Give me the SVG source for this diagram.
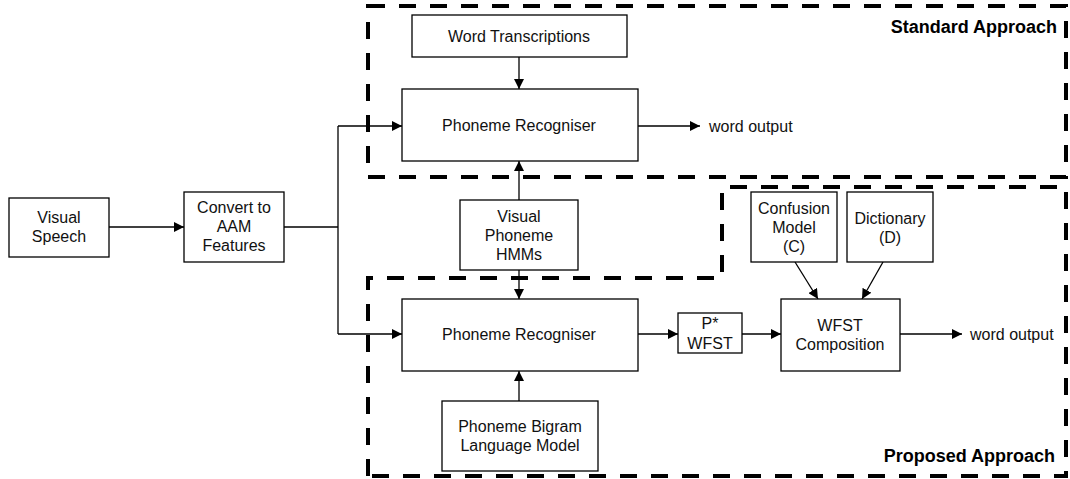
<svg xmlns="http://www.w3.org/2000/svg" width="1070" height="479" viewBox="0 0 1070 479">
<defs>
<style>
.box{fill:#fff;stroke:#000;stroke-width:1.3}
.t{font-family:"Liberation Sans",Arial,sans-serif;font-size:16px;fill:#111;text-anchor:middle}
.tl{font-family:"Liberation Sans",Arial,sans-serif;font-size:16px;fill:#111}
.b{font-family:"Liberation Sans",Arial,sans-serif;font-size:18px;font-weight:bold;fill:#000;text-anchor:end}
.c{fill:none;stroke:#000;stroke-width:1.3}
.d{fill:none;stroke:#000;stroke-width:4;stroke-dasharray:17 14}
</style>
<marker id="ah" viewBox="0 0 10 10" refX="10" refY="5" markerWidth="10" markerHeight="10" markerUnits="userSpaceOnUse" orient="auto">
<path d="M0,0 L10,5 L0,10 Z" fill="#000"/>
</marker>
</defs>
<rect width="1070" height="479" fill="#fff"/>
<g id="regions">
<rect class="d" x="368" y="6" width="698" height="171"/>
<path class="d" d="M368,476 V278 H722 V187 H1066 V476 Z"/>
<text class="b" x="1057" y="33">Standard Approach</text>
<text class="b" x="1055" y="462">Proposed Approach</text>
</g>
<g id="connectors">
<line class="c" x1="109" y1="227" x2="184" y2="227" marker-end="url(#ah)"/>
<polyline class="c" points="284,227 338,227"/>
<polyline class="c" points="338,126 338,334"/>
<line class="c" x1="338" y1="126" x2="402" y2="126" marker-end="url(#ah)"/>
<line class="c" x1="338" y1="334" x2="402" y2="334" marker-end="url(#ah)"/>
<line class="c" x1="519" y1="57" x2="519" y2="89" marker-end="url(#ah)"/>
<line class="c" x1="638" y1="126" x2="700" y2="126" marker-end="url(#ah)"/>
<line class="c" x1="519" y1="200" x2="519" y2="161" marker-end="url(#ah)"/>
<line class="c" x1="519" y1="270" x2="519" y2="299" marker-end="url(#ah)"/>
<line class="c" x1="519" y1="401" x2="519" y2="371" marker-end="url(#ah)"/>
<line class="c" x1="638" y1="334" x2="678" y2="334" marker-end="url(#ah)"/>
<line class="c" x1="742" y1="334" x2="781" y2="334" marker-end="url(#ah)"/>
<line class="c" x1="900" y1="334" x2="962" y2="334" marker-end="url(#ah)"/>
<line class="c" x1="795" y1="262" x2="818" y2="299" marker-end="url(#ah)"/>
<line class="c" x1="883" y1="262" x2="862" y2="299" marker-end="url(#ah)"/>
</g>
<g id="visual-speech">
<rect class="box" x="9" y="198" width="100" height="59"/>
<text class="t" x="59" y="223">Visual</text>
<text class="t" x="59" y="242">Speech</text>
</g>
<g id="convert">
<rect class="box" x="184" y="192" width="100" height="70"/>
<text class="t" x="234" y="213">Convert to</text>
<text class="t" x="234" y="232">AAM</text>
<text class="t" x="234" y="251">Features</text>
</g>
<g id="word-transcriptions">
<rect class="box" x="412" y="15" width="215" height="42"/>
<text class="t" x="519" y="42">Word Transcriptions</text>
</g>
<g id="phoneme-recogniser-std">
<rect class="box" x="402" y="89" width="236" height="72"/>
<text class="t" x="519" y="131">Phoneme Recogniser</text>
</g>
<g id="word-output-std">
<text class="tl" x="709" y="132">word output</text>
</g>
<g id="hmms">
<rect class="box" x="460" y="200" width="118" height="70"/>
<text class="t" x="519" y="222">Visual</text>
<text class="t" x="519" y="241">Phoneme</text>
<text class="t" x="519" y="260">HMMs</text>
</g>
<g id="phoneme-recogniser-prop">
<rect class="box" x="402" y="299" width="236" height="72"/>
<text class="t" x="519" y="340">Phoneme Recogniser</text>
</g>
<g id="pstar">
<rect class="box" x="678" y="313" width="64" height="40"/>
<text class="t" x="710" y="329">P*</text>
<text class="t" x="710" y="349">WFST</text>
</g>
<g id="wfst-composition">
<rect class="box" x="781" y="299" width="119" height="72"/>
<text class="t" x="840" y="331">WFST</text>
<text class="t" x="840" y="350">Composition</text>
</g>
<g id="word-output-prop">
<text class="tl" x="970" y="340">word output</text>
</g>
<g id="confusion">
<rect class="box" x="751" y="192" width="86" height="70"/>
<text class="t" x="794" y="214">Confusion</text>
<text class="t" x="794" y="233">Model</text>
<text class="t" x="794" y="252">(C)</text>
</g>
<g id="dictionary">
<rect class="box" x="847" y="192" width="86" height="70"/>
<text class="t" x="890" y="224">Dictionary</text>
<text class="t" x="890" y="243">(D)</text>
</g>
<g id="bigram">
<rect class="box" x="442" y="401" width="156" height="70"/>
<text class="t" x="520" y="432">Phoneme Bigram</text>
<text class="t" x="520" y="451">Language Model</text>
</g>
</svg>
